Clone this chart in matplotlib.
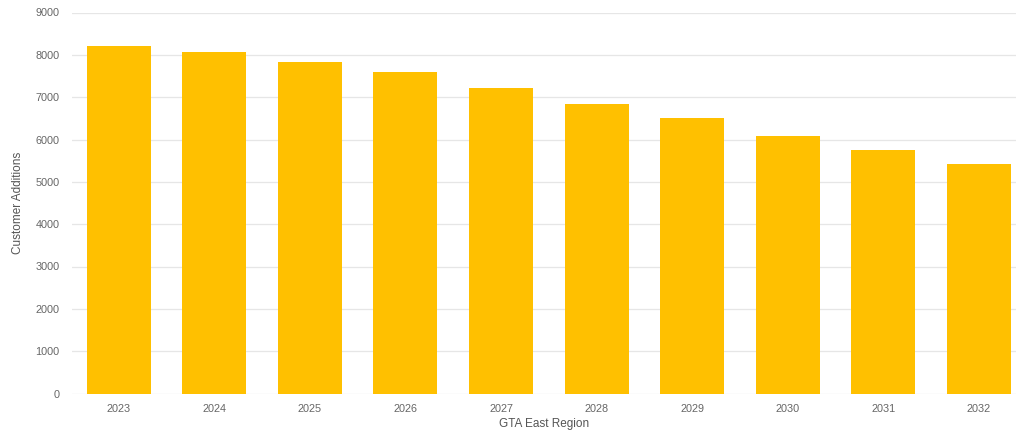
import matplotlib
matplotlib.use('Agg')
import matplotlib.pyplot as plt

# yearly customer additions, GTA East
years = ['2023', '2024', '2025', '2026', '2027', '2028', '2029', '2030', '2031', '2032']
additions = [8220, 8070, 7840, 7600, 7220, 6840, 6510, 6080, 5750, 5410]
yticks = [0, 1000, 2000, 3000, 4000, 5000, 6000, 7000, 8000, 9000]

plt.rcParams['font.family'] = ['Liberation Sans', 'DejaVu Sans']

fig = plt.figure(figsize=(10.16, 4.32), dpi=100)
ax = fig.add_axes([72/1016, 38.5/432, 944/1016, 381/432])

x = list(range(len(years)))
ax.bar(x, additions, width=0.67, color='#FFC000', zorder=2)

ax.set_xlim(-0.49, 9.39)
ax.set_ylim(0, 9000)
ax.set_yticks(yticks)
ax.set_xticks(x)
ax.set_xticklabels(years)
ax.tick_params(axis='both', length=0, labelsize=7.8, labelcolor='#666666')
ax.tick_params(axis='x', pad=7.5)
ax.tick_params(axis='y', pad=9)

ax.grid(axis='y', color='#e6e6e6', linewidth=0.9, zorder=0)
for s in ax.spines.values():
    s.set_visible(False)

ax.set_xlabel('GTA East Region', fontsize=8.5, color='#555555', labelpad=3)
ax.set_ylabel('Customer Additions', fontsize=8.5, color='#555555', labelpad=8)

fig.savefig('out.png', dpi=100)
